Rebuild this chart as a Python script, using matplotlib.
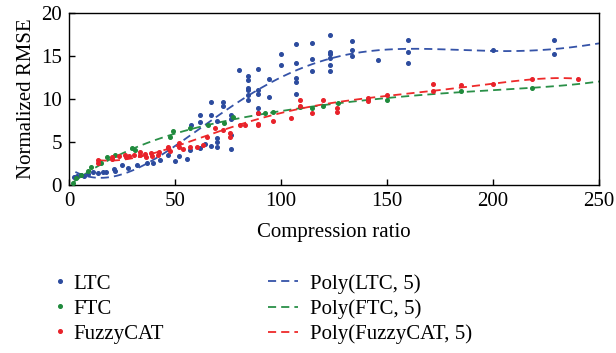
import numpy as np
import matplotlib
matplotlib.use("Agg")
import matplotlib.pyplot as plt
from matplotlib.lines import Line2D

# ---- scatter data ----
ltc_x = [2.5, 4.0, 5.7, 7.0, 8.8, 11.2, 13.8, 16.2, 17.5, 21.4, 21.7, 24.8, 28.0, 31.9,
         36.9, 39.4, 42.9, 46.8, 50.0, 52.0, 55.5, 57.0, 57.5, 61.8, 61.8, 61.8, 64.2,
         66.8, 66.8, 67.0, 69.7, 69.7, 69.7, 69.7, 72.8, 72.8, 76.3, 76.3, 76.3, 76.3,
         80.3, 84.3, 84.3, 84.3, 84.3, 84.3, 84.3, 89.3, 89.3, 89.3, 89.3, 89.3, 94.3,
         94.3, 100.2, 100.2, 106.9, 106.9, 106.9, 106.9, 106.9, 114.5, 114.5, 114.5,
         123.1, 123.1, 123.1, 123.1, 123.1, 123.1, 133.6, 133.6, 133.6, 145.6, 160.1,
         160.1, 160.1, 200.1, 228.6, 228.6]
ltc_y = [0.97, 1.05, 1.16, 1.1, 1.28, 1.47, 1.4, 1.5, 1.55, 1.9, 1.6, 2.3, 2.0, 2.3,
         2.5, 2.6, 2.9, 3.5, 2.8, 3.4, 3.0, 4.1, 6.9, 8.1, 7.3, 4.3, 4.7,
         9.6, 8.1, 4.5, 5.5, 5.0, 4.4, 7.4, 9.6, 9.2, 8.1, 7.6, 5.8, 4.2,
         13.3, 12.6, 12.2, 11.3, 11.0, 10.4, 9.8, 13.4, 11.0, 10.6, 8.9, 8.3, 12.3,
         10.2, 15.2, 13.9, 16.4, 14.2, 12.4, 12.0, 10.5, 16.5, 14.6, 13.2,
         17.4, 15.4, 15.2, 14.7, 13.9, 13.2, 16.7, 15.7, 14.9, 14.5, 16.8,
         15.4, 14.1, 15.6, 16.8, 15.2]

ftc_x = [1.9, 3.5, 5.8, 8.9, 10.5, 15.2, 18.0, 21.7, 29.6, 31.1, 47.6, 49.2, 57.0,
         65.6, 73.3, 77.5, 92.5, 96.4, 109.0, 114.5, 120.0, 126.7, 141.2, 150.1,
         184.8, 218.2]
ftc_y = [0.26, 0.8, 1.2, 1.66, 2.1, 2.6, 3.2, 3.5, 4.3, 4.1, 5.6, 6.3, 6.6,
         6.9, 7.2, 7.9, 8.3, 8.5, 9.0, 8.9, 9.2, 9.5, 9.96, 9.88,
         10.9, 11.24]

fz_x = [13.8, 13.8, 20.1, 20.1, 23.7, 26.4, 27.0, 28.5, 30.8, 33.7, 33.7, 36.0, 36.5,
        38.6, 39.0, 41.9, 42.5, 46.7, 46.7, 47.6, 51.7, 51.7, 53.6, 57.0, 60.2, 63.4,
        64.9, 68.9, 72.5, 76.0, 76.0, 80.7, 83.0, 89.3, 89.3, 89.3, 96.4, 104.6,
        109.0, 109.0, 114.5, 120.0, 126.3, 126.3, 141.2, 141.2, 150.1, 171.5, 171.5,
        184.8, 200.0, 218.2, 240.0]
fz_y = [2.9, 2.5, 3.3, 3.0, 3.4, 3.5, 3.2, 3.4, 3.5, 3.5, 3.8, 3.6, 3.3,
        3.7, 3.4, 3.5, 3.8, 4.3, 4.4, 3.9, 4.9, 4.45, 4.2, 4.45, 4.45, 4.65,
        5.6, 6.6, 6.4, 6.0, 5.6, 6.9, 7.0, 8.3, 7.1, 6.9, 7.4, 7.8,
        9.8, 9.2, 8.3, 9.8, 8.9, 8.5, 10.1, 9.7, 10.4, 11.7, 10.85,
        11.6, 11.7, 12.3, 12.3]

# ---- trend-line values (degree-5 polynomial trends) ----
ltc_trend_x = [3, 10, 20, 27, 40, 53, 64, 79, 92, 106, 118, 123, 134, 150, 170, 200, 225, 250]
ltc_trend_y = [1.05, 1.1, 1.4, 1.9, 2.8, 4.5, 6.7, 9.1, 11.4, 13.6, 14.8, 15.1, 15.2,
               15.2, 15.35, 15.65, 15.95, 16.3]
ftc_trend_x = [2, 11.5, 19.3, 29.6, 39, 47.6, 58.6, 69.7, 83.8, 98, 113.7, 127, 150,
               184.8, 218, 250]
ftc_trend_y = [0.26, 1.94, 3.0, 4.27, 5.04, 5.6, 6.5, 7.2, 7.95, 8.6, 9.1, 9.45, 9.96,
               10.85, 11.24, 12.0]
fz_trend_x = [14, 25, 35, 43, 50.8, 61.8, 74.4, 83.8, 96.4, 109, 121.5, 141.2, 150.1,
              171.5, 200, 218, 240]
fz_trend_y = [2.8, 3.1, 3.4, 3.7, 4.45, 5.6, 6.6, 7.2, 8.0, 8.9, 9.5, 10.0, 10.4,
              10.9, 11.7, 12.3, 12.3]

series_names = ["LTC", "FTC", "FuzzyCAT"]
trend_names = ["Poly(LTC, 5)", "Poly(FTC, 5)", "Poly(FuzzyCAT, 5)"]
x_ticks = [0, 50, 100, 150, 200, 250]
y_ticks = [0, 5, 10, 15, 20]

# ---- style ----
plt.rcParams['font.family'] = ['Liberation Serif', 'DejaVu Serif']
pt_colors = ["#2C4B9E", "#1F8A3C", "#E8222A"]
ln_colors = ["#3553A8", "#2A9048", "#EE2A2A"]
fs = 15
dash = (0, (4.5, 2.8))

fig = plt.figure(figsize=(6.16, 3.53), dpi=100)
ax = fig.add_axes([69/616, 1-185/353, (599-69)/616, (185-12.5)/353])

datasets = [(ltc_x, ltc_y), (ftc_x, ftc_y), (fz_x, fz_y)]
trends = [(ltc_trend_x, ltc_trend_y), (ftc_trend_x, ftc_trend_y), (fz_trend_x, fz_trend_y)]

for (xs, ys), c in zip(datasets, pt_colors):
    ax.plot(xs, ys, linestyle='none', marker='o', ms=2.6, mfc=c, mec=c, zorder=3)

for (tx, ty), c in zip(trends, ln_colors):
    coef = np.polyfit(np.array(tx), np.array(ty), 5)
    xx = np.linspace(min(tx), max(tx), 300)
    ax.plot(xx, np.polyval(coef, xx), linestyle=dash, color=c, lw=1.3, zorder=2)

ax.set_xlim(0, 250)
ax.set_ylim(0, 20)
ax.set_xticks(x_ticks)
ax.set_yticks(y_ticks)
ax.tick_params(direction='in', length=4, width=1, labelsize=fs, top=False, right=False, pad=5)
for s in ax.spines.values():
    s.set_linewidth(1.0)
    s.set_color('black')
ax.set_xlabel("Compression ratio", fontsize=fs, labelpad=9)
ax.set_ylabel("Normalized RMSE", fontsize=fs, labelpad=4)

h1 = [Line2D([], [], linestyle='none', marker='o', ms=2.6, mfc=c, mec=c) for c in pt_colors]
h2 = [Line2D([], [], linestyle=dash, color=c, lw=1.3) for c in ln_colors]
fig.legend(h1, series_names, loc='upper left', bbox_to_anchor=(54/616, 1-274/353),
           frameon=False, fontsize=fs, handlelength=0.6, handletextpad=0.35,
           labelspacing=0.26, borderaxespad=0, borderpad=0)
fig.legend(h2, trend_names, loc='upper left', bbox_to_anchor=(268/616, 1-274/353),
           frameon=False, fontsize=fs, handlelength=1.45, handletextpad=0.55,
           labelspacing=0.26, borderaxespad=0, borderpad=0)

fig.savefig("out.png", dpi=100)
